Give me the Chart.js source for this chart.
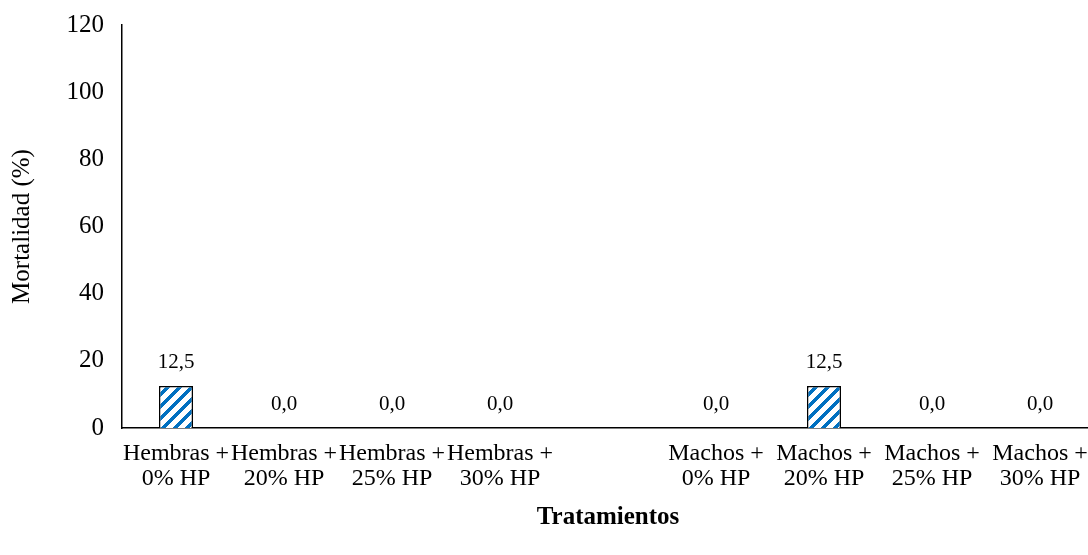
<!DOCTYPE html>
<html>
<head>
<meta charset="utf-8">
<script src="https://cdn.jsdelivr.net/npm/chart.js@4.4.0/dist/chart.umd.min.js"></script>
<style>
  html, body { margin: 0; padding: 0; background: #fff; overflow: hidden; }
  #wrap { width: 1094px; height: 555px; }
</style>
</head>
<body>
<div id="wrap"><canvas id="mortChart"></canvas></div>
<script>
// treatments (empty slot separates females and males)
const categories = [
  ['Hembras +', '0% HP'], ['Hembras +', '20% HP'], ['Hembras +', '25% HP'], ['Hembras +', '30% HP'],
  '',
  ['Machos +', '0% HP'], ['Machos +', '20% HP'], ['Machos +', '25% HP'], ['Machos +', '30% HP']
];
const mortality = [12.5, 0, 0, 0, null, 0, 12.5, 0, 0];
const yMin = 0, yMax = 120, yStep = 20;

const FONT = "'Liberation Serif', 'Times New Roman', serif";
const INK = '#000';

// blue upward-diagonal hatch fill
function makeHatch() {
    const s = 12;
    const c = document.createElement('canvas');
    c.width = c.height = s;
    const g = c.getContext('2d');
    g.fillStyle = '#fff';
    g.fillRect(0, 0, s, s);
    g.fillStyle = '#0070c0';
    for (let y = 0; y < s; y++) {
        for (let x = 0; x < s; x++) {
            if ((x + y) % s < 5) g.fillRect(x, y, 1, 1);
        }
    }
    return g.createPattern(c, 'repeat');
}

// value labels above each bar, comma decimal
const valueLabels = {
    id: 'valueLabels',
    afterDatasetsDraw(chart) {
        const ctx = chart.ctx;
        const meta = chart.getDatasetMeta(0);
        const yScale = chart.scales.y;
        ctx.save();
        ctx.font = '21px ' + FONT;
        ctx.fillStyle = INK;
        ctx.textAlign = 'center';
        ctx.textBaseline = 'middle';
        mortality.forEach((v, i) => {
            if (v === null) return;
            const x = meta.data[i].x;
            const y = yScale.getPixelForValue(v) - 24;
            ctx.fillText(v.toFixed(1).replace('.', ','), x, y);
        });
        ctx.restore();
    }
};

new Chart(document.getElementById('mortChart'), {
    type: 'bar',
    data: {
        labels: categories,
        datasets: [{
            data: mortality,
            backgroundColor: makeHatch(),
            borderColor: '#000',
            borderWidth: 1.5,
            barPercentage: 0.315,
            categoryPercentage: 1
        }]
    },
    options: {
        responsive: true,
        maintainAspectRatio: false,
        animation: false,
        layout: { padding: 0 },
        plugins: {
            legend: { display: false },
            tooltip: { enabled: false }
        },
        scales: {
            x: {
                grid: { display: false, drawTicks: false },
                border: { color: '#000', width: 1.5 },
                ticks: {
                    autoSkip: false,
                    maxRotation: 0,
                    padding: 13,
                    color: INK,
                    font: { family: FONT, size: 24, lineHeight: 1.05 }
                },
                title: {
                    display: true,
                    text: 'Tratamientos',
                    color: INK,
                    font: { family: FONT, size: 25, weight: 'bold' },
                    padding: { top: 4, bottom: 22 }
                },
                afterFit(scale) {
                    scale.height = 127;
                    scale.paddingLeft = 0;
                    scale.paddingRight = 0;
                }
            },
            y: {
                min: yMin,
                max: yMax,
                grid: { display: false, drawTicks: false },
                border: { color: '#000', width: 1.5 },
                ticks: {
                    stepSize: yStep,
                    padding: 18,
                    color: INK,
                    font: { family: FONT, size: 25 }
                },
                title: {
                    display: true,
                    text: 'Mortalidad (%)',
                    color: INK,
                    font: { family: FONT, size: 25 },
                    padding: { top: 7, bottom: 0 }
                },
                afterFit(scale) {
                    scale.width = 122;
                    scale.paddingTop = 25;
                    scale.paddingBottom = 0;
                }
            }
        }
    },
    plugins: [valueLabels]
});
</script>
</body>
</html>
